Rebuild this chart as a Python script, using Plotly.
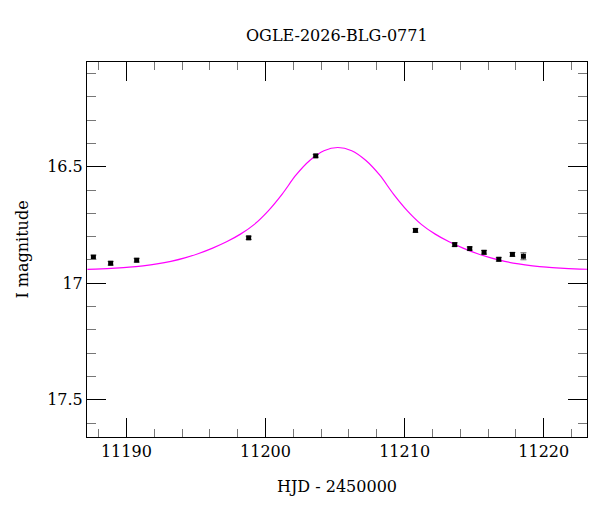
import plotly.graph_objects as go

# OGLE photometry points (HJD - 2450000, I mag, error)
hjd = [11187.63, 11188.87, 11190.74, 11198.79, 11203.61, 11210.78,
       11213.60, 11214.68, 11215.71, 11216.77, 11217.75, 11218.54]
imag = [16.888, 16.914, 16.901, 16.805, 16.453, 16.773,
        16.834, 16.851, 16.867, 16.897, 16.876, 16.884]
ierr = [0.009, 0.008, 0.008, 0.007, 0.006, 0.008,
        0.008, 0.007, 0.008, 0.008, 0.008, 0.015]

# model curve at one-day steps
model_t = [11187.2, 11188.2, 11189.2, 11190.2, 11191.2, 11192.2, 11193.2,
           11194.2, 11195.2, 11196.2, 11197.2, 11198.2, 11199.2, 11200.2,
           11201.2, 11202.2, 11203.2, 11204.2, 11205.2, 11206.2, 11207.2,
           11208.2, 11209.2, 11210.2, 11211.2, 11212.2, 11213.2, 11214.2,
           11215.2, 11216.2, 11217.2, 11218.2, 11219.2, 11220.2, 11221.2,
           11222.2, 11223.2]
model_mag = [16.940, 16.938, 16.935, 16.931, 16.925, 16.917, 16.906,
             16.891, 16.872, 16.849, 16.822, 16.789, 16.747, 16.689,
             16.617, 16.535, 16.472, 16.431, 16.417, 16.431, 16.472,
             16.535, 16.617, 16.689, 16.747, 16.789, 16.822, 16.849,
             16.872, 16.891, 16.906, 16.917, 16.925, 16.931, 16.935,
             16.938, 16.940]

x_ticks = [11190, 11200, 11210, 11220]
y_ticks = [16.5, 17, 17.5]
y_labels = ['16.5', '17', '17.5']

FONT = 'DejaVu Serif'

fig = go.Figure()

fig.add_trace(go.Scatter(
    x=model_t, y=model_mag, mode='lines', line_shape='spline',
    line=dict(color='#ff00ff', width=1.2), hoverinfo='skip'))

fig.add_trace(go.Scatter(
    x=hjd, y=imag, mode='markers',
    marker=dict(symbol='square', size=5, color='black'),
    error_y=dict(type='data', array=ierr, color='#666666', thickness=1, width=3)))

axis_common = dict(
    showline=True, linecolor='black', linewidth=1, mirror='allticks',
    ticks='inside', ticklen=19, tickcolor='black', tickwidth=1,
    showgrid=False, zeroline=False,
    tickfont=dict(family=FONT, size=16, color='black'),
)

# page body adds an 8px offset, margins account for it
fig.update_layout(
    width=600, height=512,
    margin=dict(l=79, r=21, t=54, b=83),
    plot_bgcolor='white', paper_bgcolor='white',
    showlegend=False,
    font=dict(family=FONT, size=16, color='black'),
    title=dict(text='OGLE-2026-BLG-0771', x=0.548, xanchor='center',
               y=0.947, yanchor='middle', font=dict(family=FONT, size=16)),
    xaxis=dict(axis_common, range=[11187.17, 11223.11],
               tickvals=x_ticks, ticktext=[str(v) for v in x_ticks],
               minor=dict(dtick=2, tick0=11188, ticks='inside', ticklen=8,
                          tickcolor='#777777', tickwidth=1),
               title=dict(text='HJD - 2450000', standoff=20,
                          font=dict(family=FONT, size=16))),
    yaxis=dict(axis_common, range=[17.66, 16.05],
               tickvals=y_ticks, ticktext=y_labels,
               minor=dict(dtick=0.1, tick0=16.0, ticks='inside', ticklen=9,
                          tickcolor='#777777', tickwidth=1),
               title=dict(text='I magnitude', standoff=14,
                          font=dict(family=FONT, size=16))),
)

fig.write_html("out.html")
